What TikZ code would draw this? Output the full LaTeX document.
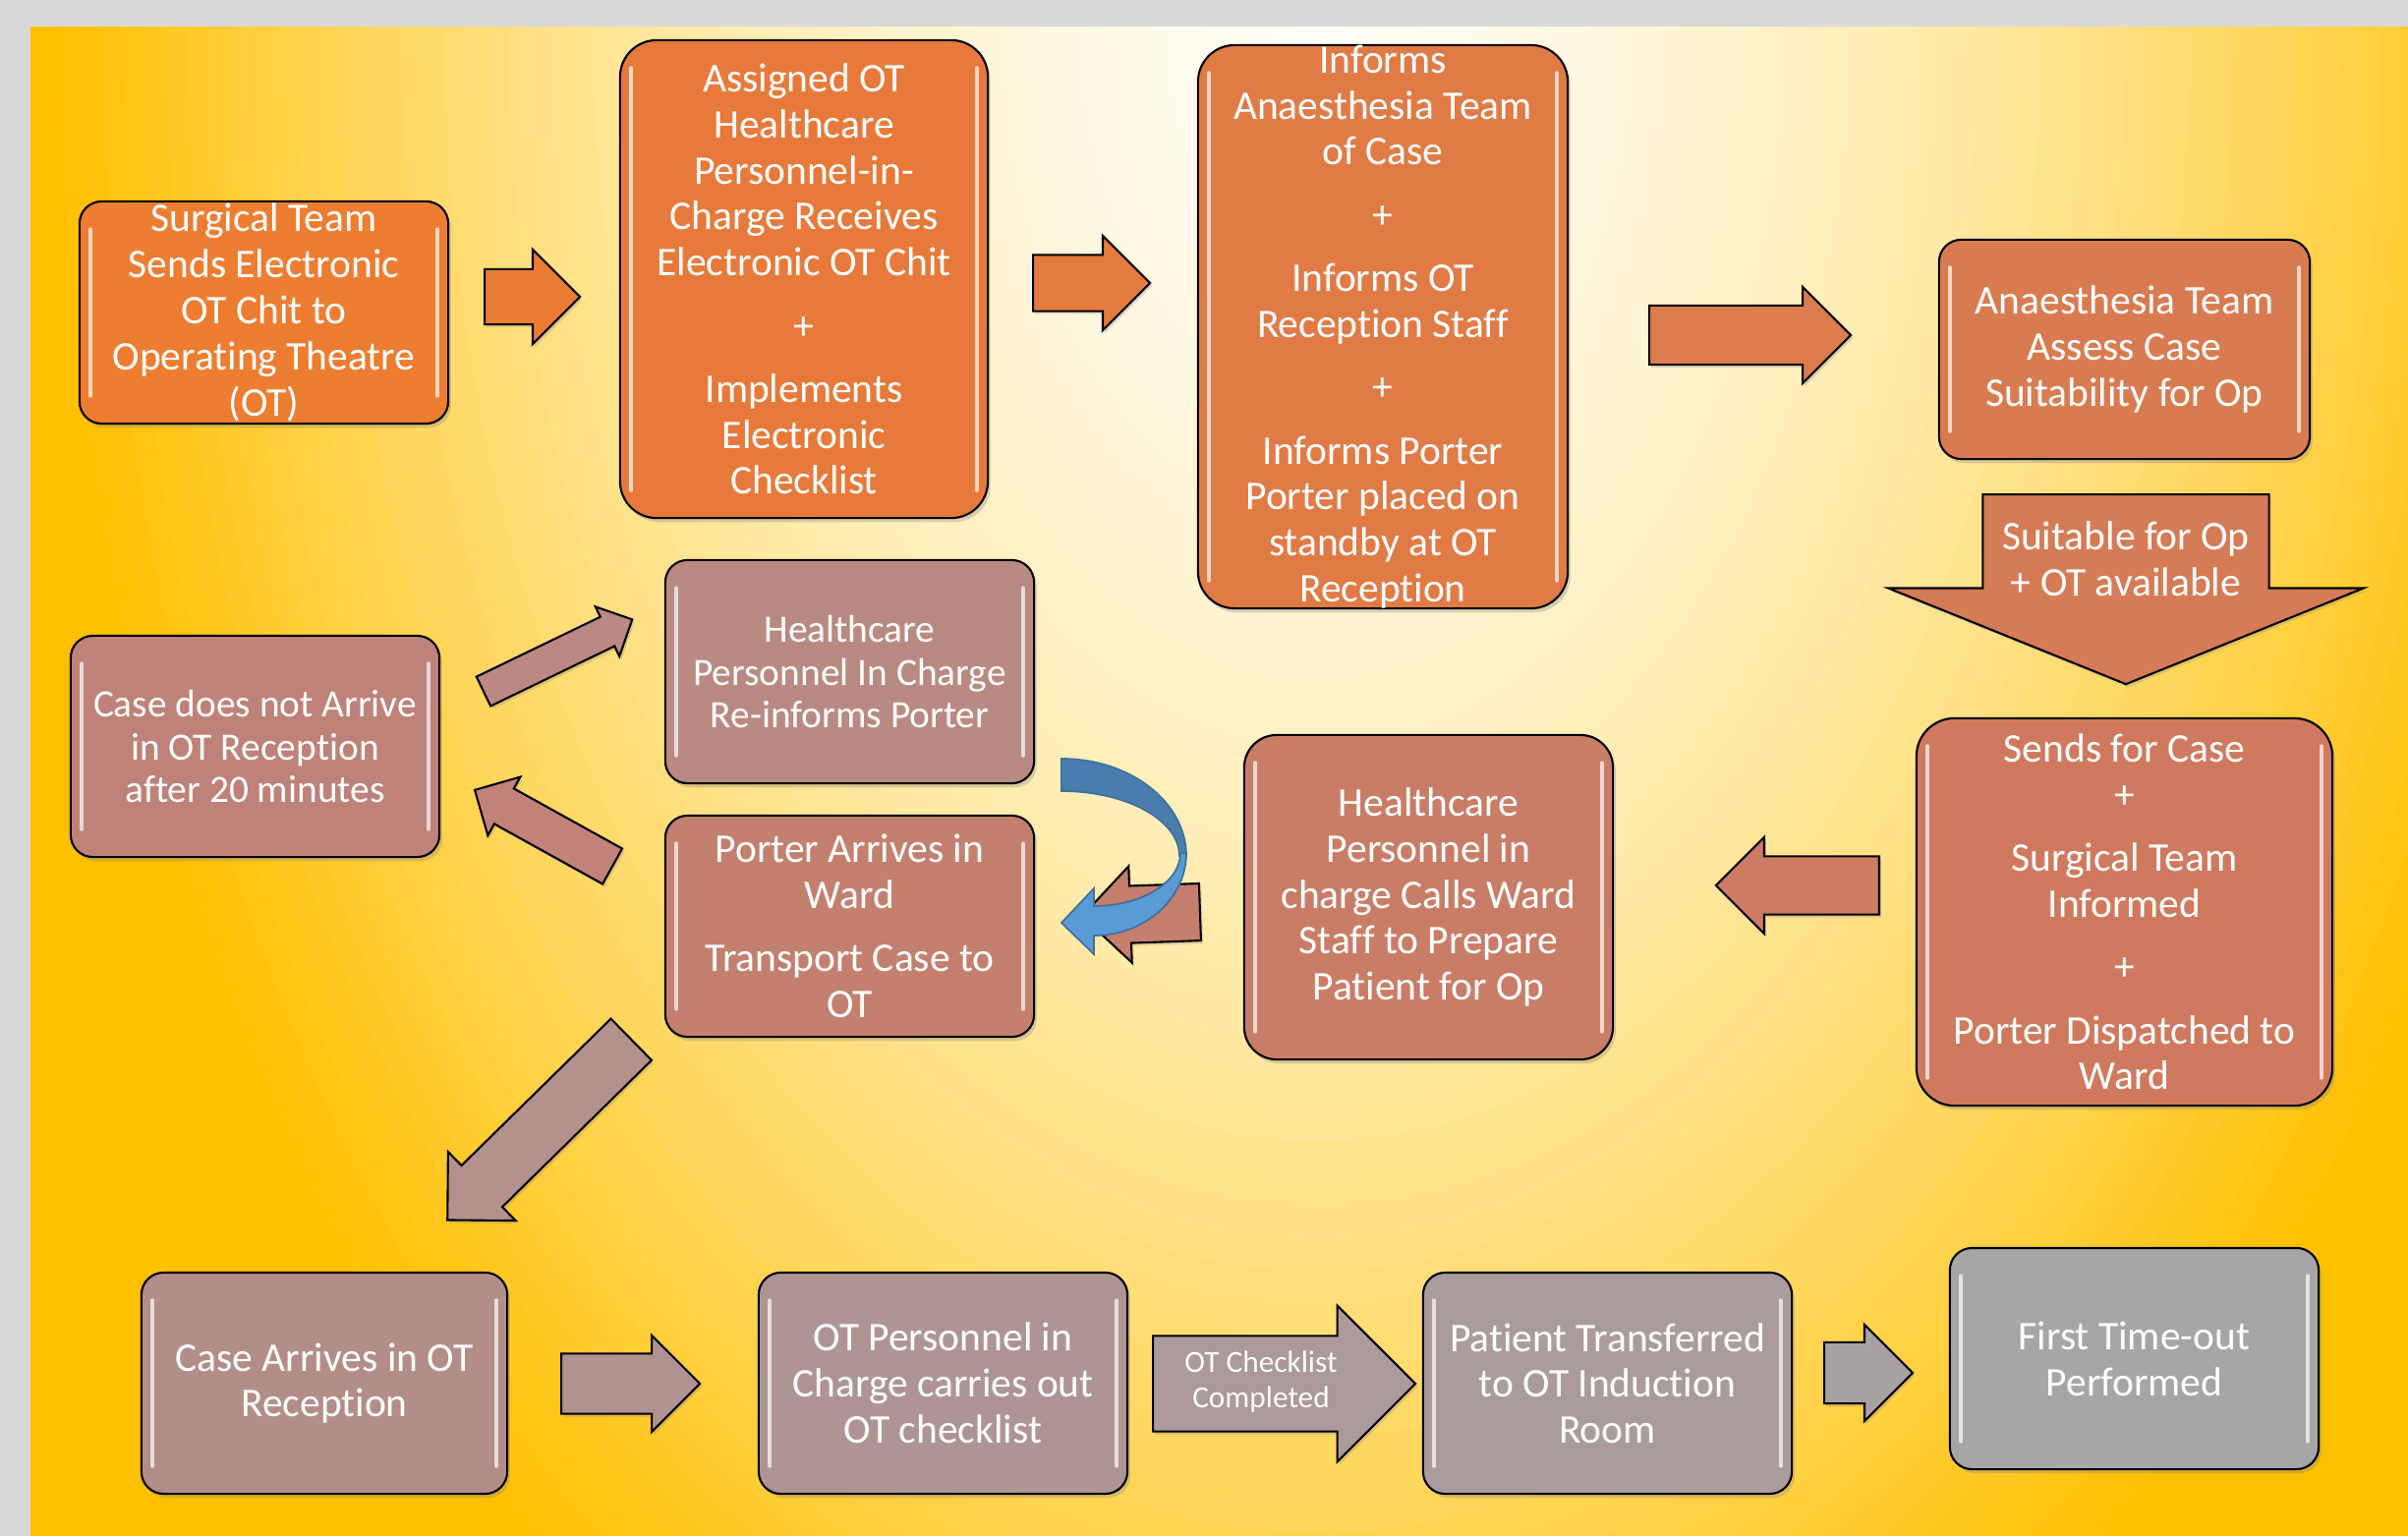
\documentclass[tikz,border=0pt]{standalone}
\usepackage{fontspec}
\setmainfont{Carlito}[Ligatures=NoCommon]
\usetikzlibrary{shapes.arrows,shadows}

\definecolor{pagegray}{HTML}{D9D9D9}
\definecolor{bglight}{HTML}{FFFDF5}
\definecolor{bgdark}{HTML}{FFC000}
% box fills, orange to grey
\definecolor{surgfill}{HTML}{ED7D31}
\definecolor{assignfill}{HTML}{E77A3A}
\definecolor{informfill}{HTML}{E07B46}
\definecolor{anaesfill}{HTML}{D97B51}
\definecolor{sendsfill}{HTML}{CF7A5E}
\definecolor{callsfill}{HTML}{C97D67}
\definecolor{porterfill}{HTML}{C3806F}
\definecolor{reinffill}{HTML}{B98A82}
\definecolor{noarrfill}{HTML}{BE8279}
\definecolor{arrivefill}{HTML}{B38E89}
\definecolor{checkfill}{HTML}{AE9594}
\definecolor{transfill}{HTML}{AA9C9C}
\definecolor{timefill}{HTML}{A6A6A6}
% arrow fills
\definecolor{arrA}{HTML}{EB7C33}
\definecolor{arrB}{HTML}{E47B3E}
\definecolor{arrC}{HTML}{DC7B4C}
\definecolor{arrD}{HTML}{D57B56}
\definecolor{arrE}{HTML}{CB7C63}
\definecolor{arrF}{HTML}{C57E6C}
\definecolor{arrG}{HTML}{BB8882}
\definecolor{arrH}{HTML}{C2827A}
\definecolor{arrI}{HTML}{B5918D}
\definecolor{arrJ}{HTML}{B09291}
\definecolor{arrK}{HTML}{AC9999}
\definecolor{arrL}{HTML}{A8A1A1}
\definecolor{bluedark}{HTML}{4A7DAE}
\definecolor{bluelight}{HTML}{5B9BD5}
\definecolor{blueline}{HTML}{41719C}

\newcommand\boxfont{\fontsize{11.8pt}{13.3pt}\selectfont}
\newcommand\smallboxfont{\fontsize{11.2pt}{12.4pt}\selectfont}
\newcommand\arrfont{\fontsize{8.9pt}{10.1pt}\selectfont}

\tikzset{
  gloss/.style={path picture={
    \draw[white, opacity=0.7, line width=1pt, line cap=round]
      ([shift={(3.2pt,-8pt)}]path picture bounding box.north west) -- ([shift={(3.2pt,8pt)}]path picture bounding box.south west)
      ([shift={(-3.2pt,-8pt)}]path picture bounding box.north east) -- ([shift={(-3.2pt,8pt)}]path picture bounding box.south east);
  }},
  stepbox/.style={draw=black, line width=0.6pt, rounded corners=6.4pt, text=white,
    align=center, inner sep=0pt, minimum width=3.75cm, minimum height=2.25cm,
    font=\boxfont, drop shadow={shadow xshift=0.8pt, shadow yshift=-1.2pt, opacity=0.3}, gloss},
  tallbox/.style={stepbox, rounded corners=10.6pt},
  blockarr/.style={single arrow, draw=black, line width=0.6pt, single arrow tip angle=90,
    inner sep=0pt, anchor=tail,
    drop shadow={shadow xshift=0.6pt, shadow yshift=-0.9pt, opacity=0.25}},
  arrowtext/.style={text=white, align=center},
}

\begin{document}
\begin{tikzpicture}[x=0.01cm, y=-0.01cm]
\useasboundingbox (0,0) rectangle (2450,1563);
% background
\fill[pagegray] (0,0) rectangle (2450,1563);
\begin{scope}
  \clip (31,27) rectangle (2450,1563);
  \fill[bgdark] (31,27) rectangle (2450,1563);
  \foreach \k in {60,59,...,1} {
    \pgfmathsetmacro\mixpct{100*(\k/60)^1.65}
    \pgfmathsetmacro\glowrx{21.6667*\k}
    \pgfmathsetmacro\glowry{33.3333*\k}
    \fill[bgdark!\mixpct!bglight] (1340,27) ellipse [x radius=\glowrx, y radius=\glowry];
  }
\end{scope}

% top row
\node[stepbox, fill=surgfill, minimum height=2.26cm] (surg) at (268.5,318)
  {Surgical Team\\Sends Electronic\\OT Chit to\\Operating Theatre\\(OT)};
\node[tallbox, fill=assignfill, minimum width=3.74cm, minimum height=4.86cm] (assign) at (818,284)
  {Assigned OT\\Healthcare\\Personnel-in-\\Charge Receives\\Electronic OT Chit\\[5pt]+\\[5pt]Implements\\Electronic\\Checklist};
\node[tallbox, fill=informfill, minimum width=3.76cm, minimum height=5.69cm] (inform) at (1407,332.5)
  {Informs\\Anaesthesia Team\\of Case\\[5pt]+\\[5pt]Informs OT\\Reception Staff\\[5pt]+\\[5pt]Informs Porter\\Porter placed on\\standby at OT\\Reception};
\node[stepbox, fill=anaesfill, minimum width=3.77cm, minimum height=2.23cm] (anaes) at (2161.5,355.5)
  {Anaesthesia Team\\Assess Case\\Suitability for Op};

% middle row
\node[stepbox, fill=sendsfill, rounded corners=11pt, minimum width=4.23cm, minimum height=3.94cm] (sends) at (2161.5,928)
  {Sends for Case\\+\\[5pt]Surgical Team\\Informed\\[5pt]+\\[5pt]Porter Dispatched to\\Ward};
\node[stepbox, fill=callsfill, rounded corners=9.4pt, minimum height=3.3cm] (calls) at (1453.5,913)
  {Healthcare\\Personnel in\\charge Calls Ward\\Staff to Prepare\\Patient for Op};
\node[stepbox, fill=reinffill, font=\smallboxfont, minimum height=2.27cm] (reinform) at (864.5,683.5)
  {Healthcare\\Personnel In Charge\\Re-informs Porter};
\node[stepbox, fill=porterfill] (porter) at (864.5,942.5)
  {Porter Arrives in\\Ward\\[5pt]Transport Case to\\OT};
\node[stepbox, fill=noarrfill, font=\smallboxfont] (noarrive) at (259.5,759.5)
  {Case does not Arrive\\in OT Reception\\after 20 minutes};

% bottom row
\node[stepbox, fill=arrivefill, minimum width=3.72cm] (arrives) at (330,1407.5)
  {Case Arrives in OT\\Reception};
\node[stepbox, fill=checkfill] (checklist) at (959.5,1407.5)
  {OT Personnel in\\Charge carries out\\OT checklist};
\node[stepbox, fill=transfill] (transfer) at (1635.5,1407.5)
  {Patient Transferred\\to OT Induction\\Room};
\node[stepbox, fill=timefill] (timeout) at (2171.5,1382.5)
  {First Time-out\\Performed};

% block arrows
\node[blockarr, fill=arrA, minimum height=0.97cm, minimum width=0.94cm, inner ysep=0.27cm, single arrow head extend=0.2cm] (a1) at (492,302) {};
\node[blockarr, fill=arrB, minimum height=1.19cm, minimum width=0.94cm, inner ysep=0.275cm, single arrow head extend=0.195cm] (a2) at (1050,288) {};
\node[blockarr, fill=arrC, minimum height=2.05cm, minimum width=0.96cm, inner ysep=0.29cm, single arrow head extend=0.19cm] (a3) at (1677,341) {};
\node[blockarr, fill=arrD, rotate=-90, single arrow tip angle=136, minimum height=1.93cm, minimum width=4.81cm, inner ysep=1.445cm, single arrow head extend=0.96cm] (a4) at (2163,502) {};
\node[arrowtext, font=\boxfont] (suitable) at (2163,569) {Suitable for Op\\+ OT available};
\node[blockarr, fill=arrE, rotate=180, minimum height=1.66cm, minimum width=0.96cm, inner ysep=0.285cm, single arrow head extend=0.195cm] (a5) at (1913,901) {};
\node[blockarr, fill=arrF, rotate=182, minimum height=1.2cm, minimum width=0.96cm, inner ysep=0.28cm, single arrow head extend=0.2cm] (a6) at (1222,928) {};
\node[blockarr, fill=arrG, rotate=25.8, minimum height=1.68cm, minimum width=0.54cm, inner ysep=0.155cm, single arrow head extend=0.115cm] (a7) at (491,704) {};
\node[blockarr, fill=arrH, rotate=151, minimum height=1.6cm, minimum width=0.66cm, inner ysep=0.195cm, single arrow head extend=0.135cm] (a8) at (624,882) {};
\node[blockarr, fill=arrI, rotate=224.5, minimum height=2.62cm, minimum width=0.96cm, inner ysep=0.285cm, single arrow head extend=0.195cm] (a9) at (643,1057) {};
\node[blockarr, fill=arrJ, minimum height=1.41cm, minimum width=0.96cm, inner ysep=0.295cm, single arrow head extend=0.185cm] (b1) at (570,1408) {};
\node[blockarr, fill=arrK, minimum height=2.67cm, minimum width=1.57cm, inner ysep=0.475cm, single arrow head extend=0.31cm] (b2) at (1172,1408) {};
\node[arrowtext, font=\arrfont] (b2txt) at (1283,1406) {OT Checklist\\Completed};
\node[blockarr, fill=arrL, minimum height=0.9cm, minimum width=0.96cm, inner ysep=0.3cm, single arrow head extend=0.18cm] (b3) at (1855,1397) {};

% curved arrow from re-inform back to porter
\coordinate (curvetop) at (1080,772);
\coordinate (curveside) at (1207,868);
\fill[bluedark, draw=blueline, line width=0.5pt] (curvetop)
  arc[start angle=-90, end angle=0, x radius=127, y radius=99] -- (1200,871)
  arc[start angle=0, end angle=-90, x radius=120, y radius=66] -- cycle;
\fill[bluelight, draw=blueline, line width=0.5pt] (curveside)
  arc[start angle=0, end angle=90, x radius=94, y radius=84] -- (1113,971) -- (1080,939)
  -- (1113,904) -- (1113,922)
  arc[start angle=90, end angle=0, x radius=88, y radius=54] -- cycle;
\end{tikzpicture}
\end{document}
